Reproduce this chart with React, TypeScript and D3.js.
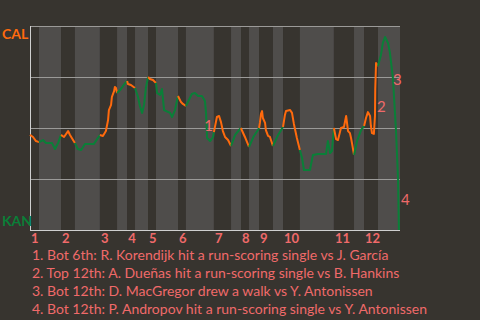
import React from 'react';
import * as d3 from 'd3';

const W = 480;
const H = 320;

// half-inning boundaries (cumulative plate-appearance index)
const halfInningEnds = [3.3, 11.4, 16.5, 25.7, 32.0, 35.7, 38.6, 43.4, 46.3, 54.4, 57.3, 67.6, 73.9, 77.6, 80.5, 84.2, 89.3, 93.0, 99.2, 111.7, 119.1, 122.8, 127.9, 136];
const inningLabels = ['1', '2', '3', '4', '5', '6', '7', '8', '9', '10', '11', '12'];
const teams = ['CAL', 'KAN'];
const gridValues = [0.25, 0.5, 0.75, 1];

// [play index, CAL win probability]
const winProb: [number, number][] = [
  [0, 0.466], [1.1, 0.456], [2.2, 0.436], [3.3, 0.431],
  [4.8, 0.441], [5.9, 0.426], [8.1, 0.426], [9.2, 0.397], [10.3, 0.426], [11.4, 0.466],
  [12.5, 0.456], [14.0, 0.485], [14.7, 0.466], [16.5, 0.426],
  [17.6, 0.397], [18.8, 0.392], [20.2, 0.422], [23.5, 0.422], [25.7, 0.466],
  [26.8, 0.461], [27.9, 0.485], [28.7, 0.539], [29.0, 0.588], [29.8, 0.613], [30.1, 0.652], [30.9, 0.681], [31.2, 0.701], [31.6, 0.696], [32.0, 0.672],
  [33.1, 0.686], [34.2, 0.706], [35.3, 0.725], [35.7, 0.73],
  [36.0, 0.716], [37.1, 0.711], [38.6, 0.696],
  [39.7, 0.652], [40.4, 0.608], [41.2, 0.574], [41.9, 0.613], [42.6, 0.696], [43.4, 0.75],
  [44.1, 0.74], [45.2, 0.735], [46.3, 0.721],
  [46.7, 0.672], [47.8, 0.662], [48.5, 0.691], [49.3, 0.588], [51.5, 0.574], [52.2, 0.554], [53.3, 0.588], [54.4, 0.657],
  [55.5, 0.627], [56.2, 0.618], [57.3, 0.608],
  [58.4, 0.637], [59.5, 0.667], [60.6, 0.672], [61.8, 0.657], [63.2, 0.657], [64.3, 0.632], [64.7, 0.574], [65.1, 0.451], [66.2, 0.436], [67.3, 0.456], [67.6, 0.48],
  [68.7, 0.554], [69.5, 0.559], [70.2, 0.529], [70.9, 0.485], [71.7, 0.456], [72.8, 0.441], [73.9, 0.412],
  [75.4, 0.466], [77.5, 0.5],
  [79.0, 0.456], [80.5, 0.407],
  [82.3, 0.461], [83.8, 0.49], [84.2, 0.5],
  [84.5, 0.525], [84.9, 0.569], [85.3, 0.583], [85.6, 0.549], [86.4, 0.525], [86.7, 0.49], [87.5, 0.461], [88.2, 0.456], [89.3, 0.412],
  [91.2, 0.466], [93.0, 0.505],
  [93.7, 0.564], [94.1, 0.583], [95.6, 0.588], [96.3, 0.574], [97.0, 0.52], [98.1, 0.451], [99.2, 0.392],
  [100.0, 0.353], [100.7, 0.294], [102.9, 0.294], [104.0, 0.368], [105.9, 0.373], [108.8, 0.373], [109.5, 0.436], [110.3, 0.377], [111.0, 0.387], [111.7, 0.5],
  [112.5, 0.446], [113.2, 0.441], [114.3, 0.5], [115.4, 0.505], [116.2, 0.559], [116.9, 0.485], [117.6, 0.475], [118.0, 0.451], [118.4, 0.422], [119.1, 0.368],
  [120.2, 0.436], [121.7, 0.49], [122.8, 0.51],
  [123.5, 0.549], [124.2, 0.578], [125.0, 0.559], [125.3, 0.51], [125.7, 0.475], [126.4, 0.471], [126.8, 0.559], [126.9, 0.691], [127.2, 0.819], [127.9, 0.804],
  [129.0, 0.858], [129.7, 0.917], [130.5, 0.946], [131.6, 0.917], [132.3, 0.868], [133.4, 0.745], [134.5, 0.495], [134.9, 0.373], [135.3, 0.245], [135.6, 0],
];

// key-event markers: [play index, win prob at label baseline]
const eventMarks: [number, number][] = [[67.6, 0.485], [127.2, 0.578], [133.1, 0.711], [136, 0.123]];
const eventAnchors = ['end', 'start', 'start', 'start'];
const eventTexts = [
  '1. Bot 6th: R. Korendijk hit a run-scoring single vs J. García',
  '2. Top 12th: A. Dueñas hit a run-scoring single vs B. Hankins',
  '3. Bot 12th: D. MacGregor drew a walk vs Y. Antonissen',
  '4. Bot 12th: P. Andropov hit a run-scoring single vs Y. Antonissen',
];

const BG = '#37342f';
const LIGHT = '#4f4d4b';
const ORANGE = '#ff6a0d';
const GREEN = '#0a7f38';
const SALMON = '#f06a6a';
const FONT = 'Lato, "Open Sans", sans-serif';

export default function App() {
  const x = d3.scaleLinear().domain([0, 136]).range([30, 400]);
  const y = d3.scaleLinear().domain([0, 1]).range([230, 26]);

  const bands = halfInningEnds.map((end, i) => ({
    start: i === 0 ? 0 : halfInningEnds[i - 1],
    end,
    top: i % 2 === 0,
  }));

  const halfOf = (p: number) => {
    const idx = halfInningEnds.findIndex((e) => p <= e);
    return idx < 0 ? halfInningEnds.length - 1 : idx;
  };

  // group consecutive segments by which team is batting
  const groups: { top: boolean; pts: [number, number][] }[] = [];
  for (let i = 0; i < winProb.length - 1; i++) {
    const a = winProb[i];
    const b = winProb[i + 1];
    const top = halfOf((a[0] + b[0]) / 2) % 2 === 0;
    const last = groups[groups.length - 1];
    if (last && last.top === top) last.pts.push(b);
    else groups.push({ top, pts: [a, b] });
  }

  const line = d3
    .line<[number, number]>()
    .x((d) => x(d[0]))
    .y((d) => y(d[1]));

  return (
    <svg width={W} height={H} style={{ position: 'fixed', left: 0, top: 0 }} fontFamily={FONT}>
      <rect x={0} y={0} width={W} height={H} fill={BG} />
      {bands.map((b, i) => (
        <rect
          key={i}
          x={x(b.start)}
          y={y(1)}
          width={x(b.end) - x(b.start)}
          height={y(0) - y(1)}
          fill={b.top ? BG : LIGHT}
        />
      ))}
      {gridValues.map((g) => (
        <line key={g} x1={x(0)} x2={x(136)} y1={y(g)} y2={y(g)} stroke="#9b9a98" strokeWidth={1} shapeRendering="crispEdges" />
      ))}
      <line x1={x(0)} x2={x(0)} y1={y(1)} y2={y(0)} stroke="#cfcfcf" strokeWidth={1} shapeRendering="crispEdges" />
      <line x1={x(0)} x2={x(136)} y1={y(0)} y2={y(0)} stroke="#cfcfcf" strokeWidth={1} shapeRendering="crispEdges" />
      {groups.map((g, i) => (
        <path
          key={i}
          d={line(g.pts) || ''}
          fill="none"
          stroke={g.top ? ORANGE : GREEN}
          strokeWidth={2}
          strokeLinejoin="round"
        />
      ))}
      <text x={2} y={39} fill={ORANGE} fontWeight="bold" fontSize={14}>{teams[0]}</text>
      <text x={2} y={226} fill={GREEN} fontWeight="bold" fontSize={14}>{teams[1]}</text>
      {inningLabels.map((lab, i) => (
        <text key={lab} x={x(bands[i * 2].start) + 1} y={242.5} fill={SALMON} fontWeight="bold" fontSize={13}>
          {lab}
        </text>
      ))}
      {eventMarks.map((m, i) => (
        <text key={i} x={x(m[0]) + (eventAnchors[i] === 'end' ? -1 : 1)} y={y(m[1])} fill={SALMON} fontSize={15} textAnchor={eventAnchors[i]}>
          {String(i + 1)}
        </text>
      ))}
      {eventTexts.map((t, i) => (
        <text key={i} x={32} y={259.5 + i * 18} fill={SALMON} fontSize={14}>
          {t}
        </text>
      ))}
    </svg>
  );
}
